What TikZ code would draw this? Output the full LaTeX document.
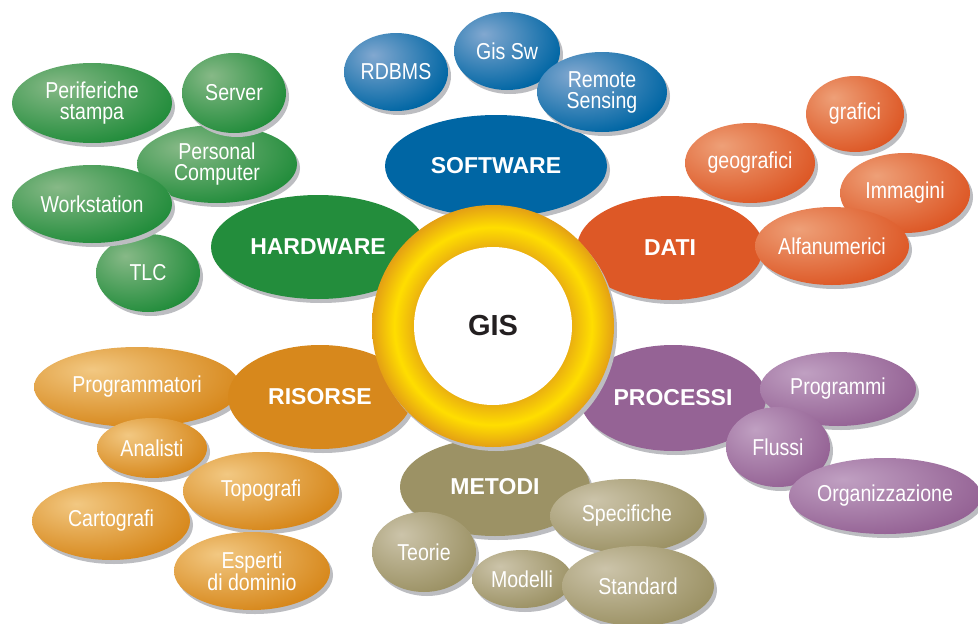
\documentclass[tikz,border=0pt]{standalone}
\usepackage{fontspec}
\setmainfont{Liberation Sans}
\newfontfamily\narrowsans{Liberation Sans}[FakeStretch=0.85]
\usetikzlibrary{shapes.geometric,shadows}

\definecolor{hwgreen}{RGB}{35,141,60}
\definecolor{hwgreenhi}{RGB}{135,185,135}
\definecolor{swblue}{RGB}{0,102,164}
\definecolor{swbluehi}{RGB}{130,168,208}
\definecolor{datorange}{RGB}{221,88,38}
\definecolor{datorangehi}{RGB}{238,160,120}
\definecolor{procpurple}{RGB}{149,99,149}
\definecolor{procpurplehi}{RGB}{192,160,194}
\definecolor{metolive}{RGB}{156,146,101}
\definecolor{metolivehi}{RGB}{204,196,170}
\definecolor{risgold}{RGB}{215,136,28}
\definecolor{risgoldhi}{RGB}{242,200,130}
\definecolor{ringedge}{RGB}{234,176,16}
\definecolor{ringmid}{RGB}{255,222,0}
\definecolor{ringout}{RGB}{228,160,20}
\definecolor{shadegray}{RGB}{188,189,193}
\definecolor{gisblack}{RGB}{35,31,32}
\colorlet{bubhi}{white}
\colorlet{bubbase}{black}

% the middle 50bp square of a shading covers the path
\pgfdeclareradialshading[bubhi,bubbase]{bubshade}{\pgfpoint{-11bp}{11bp}}%
  {color(0bp)=(bubhi); color(34bp)=(bubbase); color(100bp)=(bubbase)}
\pgfdeclareradialshading{ringshade}{\pgfpoint{0bp}{0bp}}%
  {color(0bp)=(ringedge); color(16.3bp)=(ringedge); color(20.4bp)=(ringmid);
   color(25bp)=(ringout); color(50bp)=(ringout)}

\newcommand\leaffont{\narrowsans\fontsize{23}{21}\selectfont}
\newcommand\hubfont{\bfseries\fontsize{23}{23}\selectfont}

\begin{document}
\begin{tikzpicture}
  [x=1pt,y=-1pt,
   dims/.style 2 args={minimum width=#1pt,minimum height=#2pt},
   softshadow/.style={drop shadow={shadow xshift=3pt,shadow yshift=-4pt,
     fill=shadegray,opacity=1}},
   hub/.style={ellipse,inner sep=0pt,fill=#1,text=white,font=\hubfont,softshadow},
   leaf/.style={ellipse,inner sep=0pt,align=center,text=white,font=\leaffont,
     /utils/exec={\colorlet{bubhi}{#1hi}\colorlet{bubbase}{#1}},
     shading=bubshade,softshadow}]
  \useasboundingbox[fill=white] (0,0) rectangle (978,624);

  % hardware
  \node[hub=hwgreen,dims={214}{104}] (hw) at (318,247) {HARDWARE};
  \node[leaf=hwgreen,dims={104}{78}] (tlc) at (148,273) {TLC};
  \node[leaf=hwgreen,dims={160}{78}] (pc) at (217,164) {Personal\\Computer};
  \node[leaf=hwgreen,dims={160}{78}] (ws) at (92,204) {Workstation};
  \node[leaf=hwgreen,dims={160}{80}] (per) at (92,103) {Periferiche\\stampa};
  \node[leaf=hwgreen,dims={104}{80}] (srv) at (234,93) {Server};

  % software
  \node[hub=swblue,dims={222}{102}] (sw) at (496,166) {SOFTWARE};
  \node[leaf=swblue,dims={104}{78}] (rdbms) at (396,72) {RDBMS};
  \node[leaf=swblue,dims={106}{78}] (gissw) at (507,51) {Gis Sw};
  \node[leaf=swblue,dims={130}{80}] (rs) at (602,92) {Remote\\Sensing};

  % dati
  \node[hub=datorange,dims={186}{104}] (dati) at (670,248) {DATI};
  \node[leaf=datorange,dims={130}{80}] (geo) at (750,163) {geografici};
  \node[leaf=datorange,dims={98}{76}] (graf) at (855,114) {grafici};
  \node[leaf=datorange,dims={130}{80}] (imm) at (905,193) {Immagini};
  \node[leaf=datorange,dims={154}{78}] (alfa) at (832,246) {Alfanumerici};

  % processi
  \node[hub=procpurple,dims={186}{106}] (proc) at (673,398) {PROCESSI};
  \node[leaf=procpurple,dims={156}{74}] (prog) at (838,389) {Programmi};
  \node[leaf=procpurple,dims={104}{80}] (flu) at (778,447) {Flussi};
  \node[leaf=procpurple,dims={186}{76}] (org) at (885,496) {Organizzazione};

  % metodi
  \node[hub=metolive,dims={190}{98}] (met) at (495,487) {METODI};
  \node[leaf=metolive,dims={104}{80}] (teo) at (424,552) {Teorie};
  \node[leaf=metolive,dims={154}{74}] (spec) at (627,516) {Specifiche};
  \node[leaf=metolive,dims={100}{58}] (mod) at (522,579) {Modelli};
  \node[leaf=metolive,dims={152}{80}] (std) at (638,586) {Standard};

  % risorse
  \node[leaf=risgold,dims={206}{80}] (progr) at (137,387) {Programmatori};
  \node[hub=risgold,dims={184}{104}] (ris) at (320,397) {RISORSE};
  \node[leaf=risgold,dims={110}{60}] (ana) at (152,448) {Analisti};
  \node[leaf=risgold,dims={158}{78}] (carto) at (111,521) {Cartografi};
  \node[leaf=risgold,dims={156}{78}] (topo) at (261,491) {Topografi};
  \node[leaf=risgold,dims={156}{78}] (esp) at (252,571) {Esperti\\di dominio};

  % anello centrale
  \node[circle,inner sep=0pt,minimum size=242pt,shading=ringshade,softshadow]
    (ring) at (493,326) {};
  \node[circle,inner sep=0pt,minimum size=158pt,fill=white,text=gisblack,
    font=\bfseries\fontsize{29}{29}\selectfont] (gis) at (ring) {GIS};
\end{tikzpicture}
\end{document}
